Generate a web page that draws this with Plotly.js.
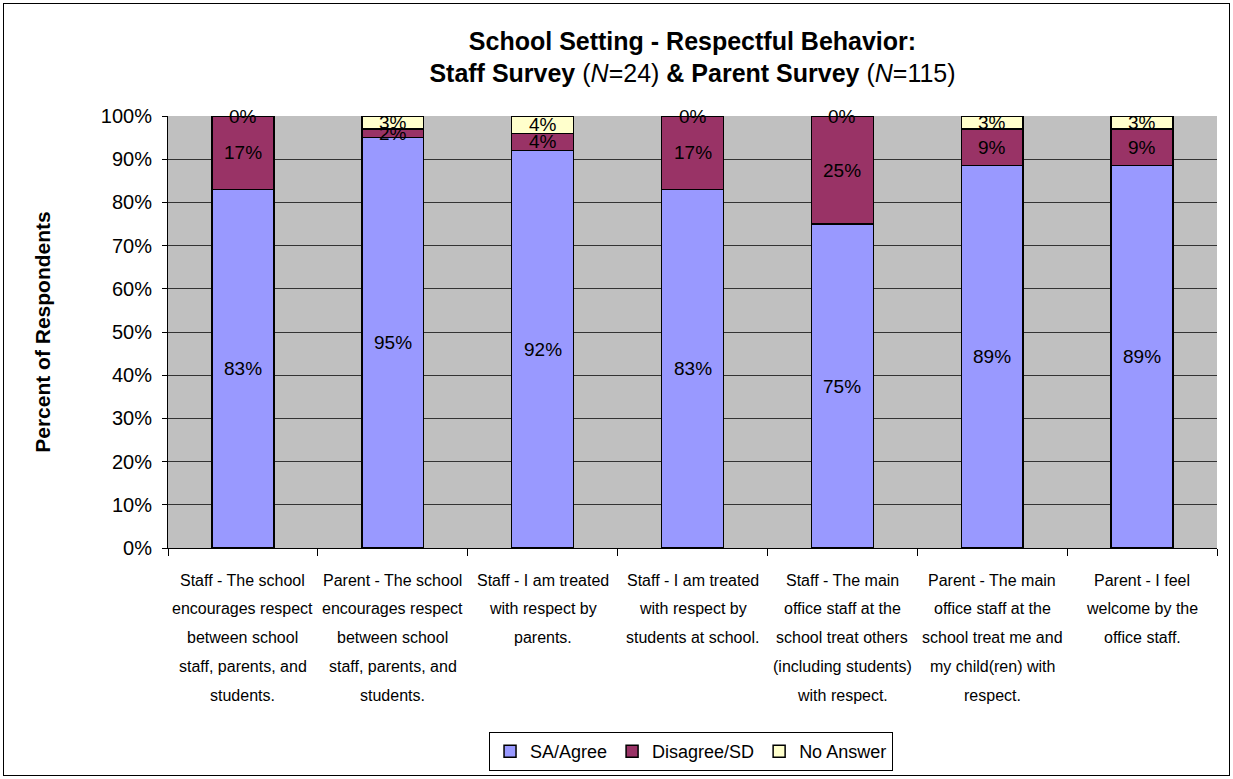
<!DOCTYPE html>
<html>
<head>
<meta charset="utf-8">
<script src="https://cdn.plot.ly/plotly-3.0.1.min.js"></script>
<style>
  html, body { margin: 0; padding: 0; background: #fff; }
  #wrap { position: relative; width: 1233px; height: 779px; }
  #chart { position: absolute; left: 0; top: 0; width: 1233px; height: 779px; }
  #frame { position: absolute; left: 3px; top: 3px; width: 1227px; height: 773px; box-sizing: border-box; border: 1px solid #000; pointer-events: none; }
</style>
</head>
<body>
<div id="wrap">
  <div id="chart"></div>
  <div id="frame"></div>
</div>
<script>
// ---- Data ----
const categoryLines = [
  ["Staff - The school", "encourages respect", "between school", "staff, parents, and", "students."],
  ["Parent - The school", "encourages respect", "between school", "staff, parents, and", "students."],
  ["Staff - I am treated", "with respect by", "parents."],
  ["Staff - I am treated", "with respect by", "students at school."],
  ["Staff - The main", "office staff at the", "school treat others", "(including students)", "with respect."],
  ["Parent - The main", "office staff at the", "school treat me and", "my child(ren) with", "respect."],
  ["Parent - I feel", "welcome by the", "office staff."]
];
const categories = categoryLines.map(l => l.join(" "));

const seriesNames = ["SA/Agree", "Disagree/SD", "No Answer"];
const agree    = [83, 95, 92, 83, 75, 88.5, 88.5];
const disagree = [17, 2, 4, 17, 25, 8.5, 8.5];
const noAnswer = [0, 3, 4, 0, 0, 3, 3];
const seriesValues = [agree, disagree, noAnswer];
const seriesColors = ["#9999FF", "#993366", "#FFFFCC"];

const yTickVals = [0, 10, 20, 30, 40, 50, 60, 70, 80, 90, 100];
const yTickText = yTickVals.map(v => v + "%");

// ---- Traces ----
const FONT = "Liberation Sans, Arial, sans-serif";
const traces = seriesValues.map((vals, i) => ({
  type: "bar",
  name: seriesNames[i],
  x: categories,
  y: vals,
  marker: { color: seriesColors[i], line: { color: "#000", width: 1.5 } },
  hoverinfo: "x+y+name"
}));

// ---- Data label annotations (positioned from the data) ----
const annotations = [];
categories.forEach((cat, j) => {
  let base = 0;
  seriesValues.forEach((vals, i) => {
    const v = vals[j];
    const yc = v === 0 ? base : base + v / 2;
    annotations.push({
      x: cat, y: yc, xref: "x", yref: "y",
      text: Math.round(v) + "%",
      showarrow: false,
      font: { family: FONT, size: 19, color: "#000" },
      xanchor: "center", yanchor: "middle"
    });
    base += v;
  });
});

// ---- Category labels (multi-line, below axis) ----
categoryLines.forEach((lines, j) => {
  lines.forEach((line, k) => {
    annotations.push({
      x: categories[j], y: 0, xref: "x", yref: "paper",
      text: line, showarrow: false,
      font: { family: FONT, size: 16, color: "#000" },
      xanchor: "center", yanchor: "middle",
      yshift: -32 - 28.75 * k
    });
  });
});

const layout = {
  width: 1233, height: 779,
  margin: { l: 168, r: 16, t: 116, b: 231 },
  paper_bgcolor: "#fff",
  plot_bgcolor: "#C0C0C0",
  barmode: "stack",
  bargap: 0.587,
  font: { family: FONT, color: "#000" },
  title: {
    text: "<b>School Setting - Respectful Behavior:</b><br><b>Staff Survey</b> (<i>N</i>=24) <b>&</b> <b>Parent Survey</b> (<i>N</i>=115)",
    font: { family: FONT, size: 25, color: "#000" },
    x: 0.5, xanchor: "center", xref: "paper",
    yref: "container", y: 0.936, yanchor: "top"
  },
  xaxis: {
    type: "category",
    showticklabels: false,
    ticks: "outside", tickson: "boundaries", ticklen: 7, tickcolor: "#000", tickwidth: 1,
    showline: true, linecolor: "#000", linewidth: 1,
    showgrid: false, zeroline: false,
    automargin: false,
    fixedrange: true
  },
  yaxis: {
    range: [0, 100],
    tickvals: yTickVals, ticktext: yTickText,
    tickfont: { family: FONT, size: 20, color: "#000" },
    ticks: "outside", ticklen: 5, tickcolor: "#000",
    ticklabelstandoff: 6,
    showline: true, linecolor: "#000", linewidth: 1,
    showgrid: true, gridcolor: "#333", gridwidth: 1,
    zeroline: false,
    automargin: false,
    title: { text: "<b>Percent of Respondents</b>", font: { family: FONT, size: 21, color: "#000" }, standoff: 44 },
    fixedrange: true
  },
  showlegend: true,
  legend: {
    orientation: "h",
    x: 0.4986, xanchor: "center",
    yref: "container", y: 0.0604, yanchor: "top",
    bordercolor: "#000", borderwidth: 1, bgcolor: "#fff",
    font: { family: FONT, size: 18, color: "#000" },
    traceorder: "normal",
    itemwidth: 30
  },
  annotations: annotations
};

Plotly.newPlot("chart", traces, layout, { displayModeBar: false, staticPlot: true });
</script>
</body>
</html>
